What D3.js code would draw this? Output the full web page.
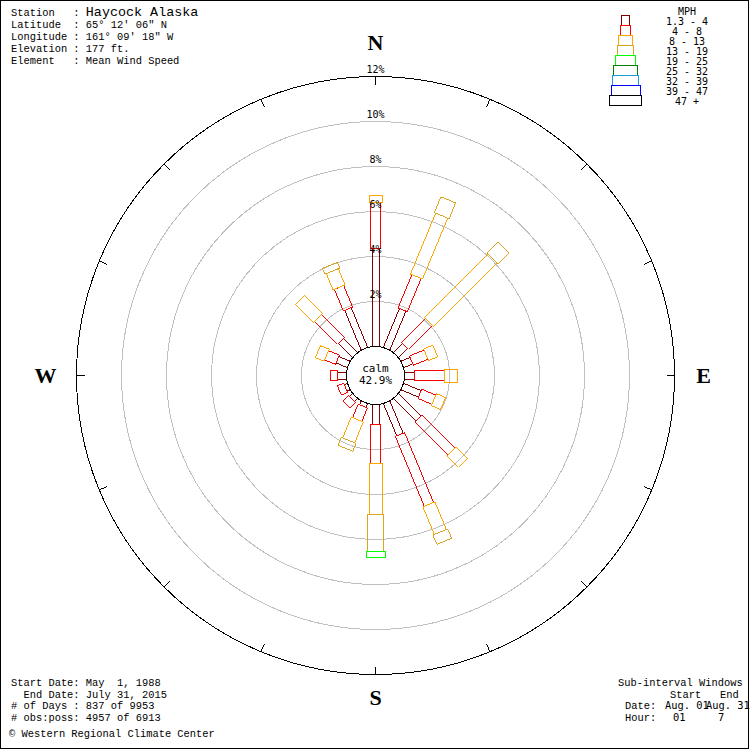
<!DOCTYPE html>
<html>
<head>
<meta charset="utf-8">
<script src="https://cdn.jsdelivr.net/npm/d3@7"></script>
<style>
body { margin: 0; background: #fff; }
svg { display: block; }
text { white-space: pre; }
</style>
</head>
<body>
<div id="chart"></div>
<script>
// Wind rose, Haycock Alaska - percent of observations per direction and speed class
const directions = ['N', 'NNE', 'NE', 'ENE', 'E', 'ESE', 'SE', 'SSE', 'S', 'SSW', 'SW', 'WSW', 'W', 'WNW', 'NW', 'NNW'];
const speedClasses = ['1.3 - 4', '4 - 8', '8 - 13', '13 - 19', '19 - 25', '25 - 32', '32 - 39', '39 - 47', '47 +'];

const mph1to4   = [4.36, 1.87, 0.58, 0.44, 0.44, 0.84, 1.40, 1.55, 0.91, 0.18, 0.18, 0.15, 0.41, 0.54, 0.89, 1.91];
const mph4to8   = [2.03, 1.60, 1.49, 0.70, 1.33, 0.68, 2.08, 3.36, 1.69, 0.65, 0.36, 0.30, 0.28, 0.52, 1.42, 1.04];
const mph8to13  = [0.30, 2.93, 4.00, 0.44, 0.60, 0.44, 0.72, 1.33, 2.31, 1.00, 0, 0, 0, 0.42, 1.16, 0.78];
const mph13to19 = [0, 0.76, 0.70, 0, 0, 0, 0, 0.45, 1.64, 0.38, 0, 0, 0, 0, 0, 0.28];
const mph19to25 = [0, 0, 0, 0, 0, 0, 0, 0, 0.27, 0, 0, 0, 0, 0, 0, 0];
const mph25to32 = [0, 0, 0, 0, 0, 0, 0, 0, 0, 0, 0, 0, 0, 0, 0, 0];
const mph32to39 = [0, 0, 0, 0, 0, 0, 0, 0, 0, 0, 0, 0, 0, 0, 0, 0];
const mph39to47 = [0, 0, 0, 0, 0, 0, 0, 0, 0, 0, 0, 0, 0, 0, 0, 0];
const mph47up   = [0, 0, 0, 0, 0, 0, 0, 0, 0, 0, 0, 0, 0, 0, 0, 0];

const calmPct = 42.9;
const ringValues = [2, 4, 6, 8, 10, 12];

const headerLines = [
    ['Station   : ', 'Haycock Alaska'],
    ['Latitude  : ', '65\u00b0 12\' 06" N'],
    ['Longitude : ', '161\u00b0 09\' 18" W'],
    ['Elevation : ', '177 ft.'],
    ['Element   : ', 'Mean Wind Speed']
];
const footerLines = [
    'Start Date: May  1, 1988',
    '  End Date: July 31, 2015',
    '# of Days : 837 of 9953',
    '# obs:poss: 4957 of 6913'
];

// Styling
const classColors = ['#800000', '#ff0000', '#ffa500', '#daa520', '#00ff00', '#008000', '#1e9be0', '#0000ff', '#000000'];
const barWidths = [7, 10, 13, 16, 19, 22, 25, 28, 31];
const legendWidths = [8, 10, 14, 16, 20, 24, 26, 29, 32];
const W = 750, H = 750, cx = 375.5, cy = 375.5;
const serifMono = '"Liberation Mono", "DejaVu Sans Mono", monospace';
const sansMono = '"DejaVu Sans Mono", monospace';

const series = [mph1to4, mph4to8, mph8to13, mph13to19, mph19to25, mph25to32, mph32to39, mph39to47, mph47up];

const svg = d3.select('#chart').append('svg')
    .attr('width', W)
    .attr('height', H);

svg.append('rect')
    .attr('x', 0.5).attr('y', 0.5)
    .attr('width', W - 2).attr('height', H - 2)
    .attr('fill', '#fff')
    .attr('stroke', '#000');

const r = d3.scaleLinear().domain([0, 12]).range([29, 299]);
const angle = d3.scaleLinear().domain([0, directions.length]).range([0, 360]);

const rose = svg.append('g').attr('transform', `translate(${cx},${cy})`);

// Rings
rose.append('g').selectAll('circle')
    .data(ringValues)
    .enter().append('circle')
    .attr('r', d => r(d))
    .attr('fill', 'none')
    .attr('stroke', d => d === 12 ? '#000' : '#c0c0c0')
    .attr('shape-rendering', 'crispEdges');

// Ticks on outer ring
rose.append('g').selectAll('line')
    .data(directions)
    .enter().append('line')
    .attr('transform', (d, i) => `rotate(${angle(i)})`)
    .attr('x1', 0).attr('x2', 0)
    .attr('y1', -r(12)).attr('y2', -r(12) + 8)
    .attr('stroke', '#000')
    .attr('shape-rendering', 'crispEdges');

// Bars: one rectangle per speed class, stacked outward
const segs = [];
directions.forEach((dir, i) => {
    let start = 0;
    series.forEach((vals, k) => {
        const v = vals[i];
        if (v > 0) {
            segs.push({ i, k, r0: start, r1: start + v });
            start += v;
        }
    });
});

rose.append('g').selectAll('rect')
    .data(segs)
    .enter().append('rect')
    .attr('transform', d => `rotate(${angle(d.i)})`)
    .attr('x', d => -barWidths[d.k] / 2)
    .attr('y', d => -r(d.r1))
    .attr('width', d => barWidths[d.k])
    .attr('height', d => r(d.r1) - r(d.r0))
    .attr('fill', 'none')
    .attr('stroke', d => classColors[d.k])
    .attr('shape-rendering', 'crispEdges');

// Ring labels
rose.append('g').selectAll('text')
    .data(ringValues)
    .enter().append('text')
    .attr('x', 0)
    .attr('y', d => -r(d) - 4)
    .attr('text-anchor', 'middle')
    .style('font-family', sansMono)
    .style('font-size', '10px')
    .text(d => d + '%');

// Calm circle
rose.append('circle')
    .attr('r', r(0))
    .attr('fill', '#fff')
    .attr('stroke', '#000')
    .attr('shape-rendering', 'crispEdges');

rose.append('text')
    .attr('y', -3.5)
    .attr('text-anchor', 'middle')
    .style('font-family', sansMono)
    .style('font-size', '11px')
    .text('calm');

rose.append('text')
    .attr('y', 8.5)
    .attr('text-anchor', 'middle')
    .style('font-family', sansMono)
    .style('font-size', '11px')
    .text(calmPct.toFixed(1) + '%');

// Compass letters
const compass = [['N', 0, -333], ['E', 328, 0], ['S', 0, 322], ['W', -330, 0]];
rose.append('g').selectAll('text')
    .data(compass)
    .enter().append('text')
    .attr('x', d => d[1])
    .attr('y', d => d[2])
    .attr('dy', '0.35em')
    .attr('text-anchor', 'middle')
    .style('font-family', '"Liberation Serif", "DejaVu Serif", serif')
    .style('font-weight', 'bold')
    .style('font-size', '22px')
    .text(d => d[0]);

// Legend
const legend = svg.append('g');
legend.append('text')
    .attr('x', 687).attr('y', 15)
    .attr('text-anchor', 'middle')
    .style('font-family', sansMono)
    .style('font-size', '10px')
    .text('MPH');

legend.selectAll('rect')
    .data(speedClasses)
    .enter().append('rect')
    .attr('x', (d, k) => 625.5 - legendWidths[k] / 2)
    .attr('y', (d, k) => 15.5 + 10 * k)
    .attr('width', (d, k) => legendWidths[k])
    .attr('height', 10)
    .attr('fill', 'none')
    .attr('stroke', (d, k) => classColors[k])
    .attr('shape-rendering', 'crispEdges');

legend.selectAll('text.cls')
    .data(speedClasses)
    .enter().append('text')
    .attr('class', 'cls')
    .attr('x', 687)
    .attr('y', (d, k) => 25 + 10 * k)
    .attr('text-anchor', 'middle')
    .style('font-family', sansMono)
    .style('font-size', '10px')
    .text(d => d);

// Header block
const header = svg.append('g')
    .style('font-family', serifMono)
    .style('font-size', '10.4px');
const headerY = [16, 28, 40, 52, 64];
headerLines.forEach((line, j) => {
    const t = header.append('text').attr('x', 11).attr('y', headerY[j]);
    t.append('tspan').text(line[0]);
    t.append('tspan').style('font-size', j === 0 ? '13.4px' : '10.4px').text(line[1]);
});

// Footer block
const footer = svg.append('g')
    .style('font-family', serifMono)
    .style('font-size', '10.4px');
const footerY = [686, 698, 709, 721];
footerLines.forEach((line, j) => {
    footer.append('text').attr('x', 11).attr('y', footerY[j]).text(line);
});
footer.append('text').attr('x', 9).attr('y', 737).text('\u00a9 Western Regional Climate Center');

// Sub-interval block
const sub = svg.append('g')
    .style('font-family', serifMono)
    .style('font-size', '10.4px');
sub.append('text').attr('x', 618).attr('y', 686).text('Sub-interval Windows');
sub.append('text').attr('x', 670).attr('y', 698).text('Start');
sub.append('text').attr('x', 720).attr('y', 698).text('End');
sub.append('text').attr('x', 625).attr('y', 709).text('Date:');
sub.append('text').attr('x', 625).attr('y', 721).text('Hour:');
sub.append('text').attr('x', 665).attr('y', 709).style('font-family', sansMono).text('Aug. 01');
sub.append('text').attr('x', 706).attr('y', 709).style('font-family', sansMono).text('Aug. 31');
sub.append('text').attr('x', 673).attr('y', 721).style('font-family', sansMono).text('01');
sub.append('text').attr('x', 718).attr('y', 721).style('font-family', sansMono).text('7');
</script>
</body>
</html>
